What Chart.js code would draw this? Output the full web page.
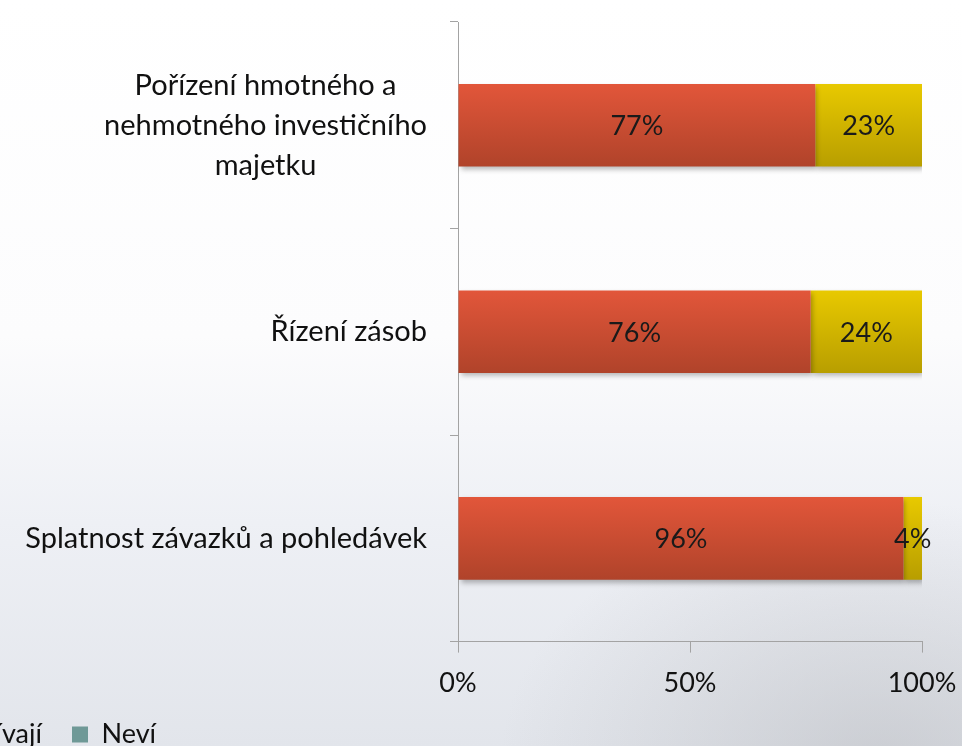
<!DOCTYPE html>
<html lang="cs">
<head>
<meta charset="utf-8">
<script src="https://cdn.jsdelivr.net/npm/chart.js@4"></script>
<style>
    html, body { margin: 0; padding: 0; }
    body {
        width: 962px; height: 746px; overflow: hidden;
        background:
            radial-gradient(ellipse 380px 260px at 880px 760px, rgba(175,177,182,0.45), rgba(175,177,182,0) 100%),
            linear-gradient(to bottom, #ffffff 0%, #fcfcfd 45%, #eef0f5 70%, #e2e5eb 100%);
    }
    #wrap { position: relative; width: 962px; height: 746px; }
</style>
</head>
<body>
<div id="wrap"><canvas id="graf"></canvas></div>
<script>
const kategorie = [
    ["Pořízení hmotného a", "nehmotného investičního", "majetku"],
    ["Řízení zásob"],
    ["Splatnost závazků a pohledávek"]
];
const vyuzivaji = [77, 76, 96];
const nevyuzivaji = [23, 24, 4];
const nevi = [0, 0, 0];
const osaX = [0, 50, 100];

const pismo = "Lato, 'Open Sans', sans-serif";
const seda = "#a3a3a3";

function prechod(horni, dolni) {
    return function (c) {
        const y = c.chart.scales && c.chart.scales.y;
        if (c.type !== "data" || !y) return horni;
        const stred = y.getPixelForValue(c.dataIndex);
        const pul = y.height / kategorie.length * 0.4 / 2;
        if (!isFinite(stred) || !isFinite(pul) || pul <= 0) return horni;
        const g = c.chart.ctx.createLinearGradient(0, stred - pul, 0, stred + pul);
        g.addColorStop(0, horni);
        g.addColorStop(1, dolni);
        return g;
    };
}

// popisky kategorií: řádky vycentrované, blok zarovnaný vpravo k ose
const popiskyKategorii = {
    id: "popiskyKategorii",
    afterDraw(chart) {
        const ctx = chart.ctx, y = chart.scales.y;
        ctx.save();
        ctx.font = "29px " + pismo;
        ctx.fillStyle = "#111";
        ctx.textAlign = "center";
        ctx.textBaseline = "middle";
        kategorie.forEach((radky, i) => {
            const sirka = Math.max(...radky.map(r => ctx.measureText(r).width));
            const stredX = y.right - 31 - sirka / 2;
            const stredY = y.getPixelForValue(i);
            radky.forEach((r, j) => {
                ctx.fillText(r, stredX, stredY + (j - (radky.length - 1) / 2) * 40);
            });
        });
        ctx.restore();
    }
};

// stín pod pruhy a hodnoty uvnitř
const hodnoty = {
    id: "hodnoty",
    beforeDatasetsDraw(chart) {
        const ctx = chart.ctx;
        ctx.save();
        ctx.shadowColor = "rgba(0,0,0,0.28)";
        ctx.shadowBlur = 5;
        ctx.shadowOffsetX = 2;
        ctx.shadowOffsetY = 3;
    },
    afterDatasetsDraw(chart) {
        const ctx = chart.ctx;
        ctx.restore();
        ctx.save();
        ctx.font = "27px " + pismo;
        ctx.fillStyle = "#1a1a1a";
        ctx.textAlign = "center";
        ctx.textBaseline = "middle";
        chart.data.datasets.forEach((ds, d) => {
            chart.getDatasetMeta(d).data.forEach((bar, i) => {
                if (!ds.data[i]) return;
                const p = bar.getCenterPoint();
                ctx.fillText(ds.data[i] + "%", p.x, p.y + 1);
            });
        });
        ctx.restore();
    }
};

// legenda je v originále oříznutá zleva
const posunLegendy = {
    id: "posunLegendy",
    afterUpdate(chart) {
        const lg = chart.legend;
        if (!lg || !lg.legendHitBoxes || !lg.legendHitBoxes[2]) return;
        const posun = lg.legendHitBoxes[2].left - 72;
        lg.left -= posun;
        lg.right -= posun;
        lg.top -= 22;
        lg.bottom -= 22;
    }
};

new Chart(document.getElementById("graf"), {
    type: "bar",
    data: {
        labels: kategorie,
        datasets: [
            { label: "Využívají", data: vyuzivaji, backgroundColor: prechod("#e2563a", "#b0432a") },
            { label: "Nevyužívají", data: nevyuzivaji, backgroundColor: prechod("#e8c900", "#b89e00") },
            { label: "Neví", data: nevi, backgroundColor: "#6f9997" }
        ]
    },
    options: {
        indexAxis: "y",
        responsive: true,
        maintainAspectRatio: false,
        animation: false,
        barPercentage: 0.4,
        categoryPercentage: 1,
        layout: { padding: { top: 22, right: 0, left: 0, bottom: -34 } },
        plugins: {
            tooltip: { enabled: false },
            legend: {
                position: "bottom",
                align: "start",
                labels: {
                    font: { family: pismo, size: 27 },
                    color: "#111",
                    boxWidth: 16,
                    boxHeight: 16,
                    padding: 30
                }
            }
        },
        scales: {
            x: {
                stacked: true,
                min: 0,
                max: 100,
                afterBuildTicks: s => { s.ticks = osaX.map(v => ({ value: v })); },
                afterFit: s => { s.paddingRight = 40; },
                grid: { drawOnChartArea: false, color: seda, tickLength: 11 },
                border: { color: seda },
                ticks: {
                    callback: v => v + "%",
                    font: { family: pismo, size: 27 },
                    color: "#111",
                    padding: 14,
                    maxRotation: 0
                }
            },
            y: {
                stacked: true,
                afterFit: s => { s.width = 458; },
                grid: { drawOnChartArea: false, color: seda, tickLength: 8, offset: true },
                border: { color: seda },
                ticks: { color: "rgba(0,0,0,0)", font: { family: pismo, size: 27 } }
            }
        }
    },
    plugins: [popiskyKategorii, hodnoty, posunLegendy]
});
</script>
</body>
</html>
